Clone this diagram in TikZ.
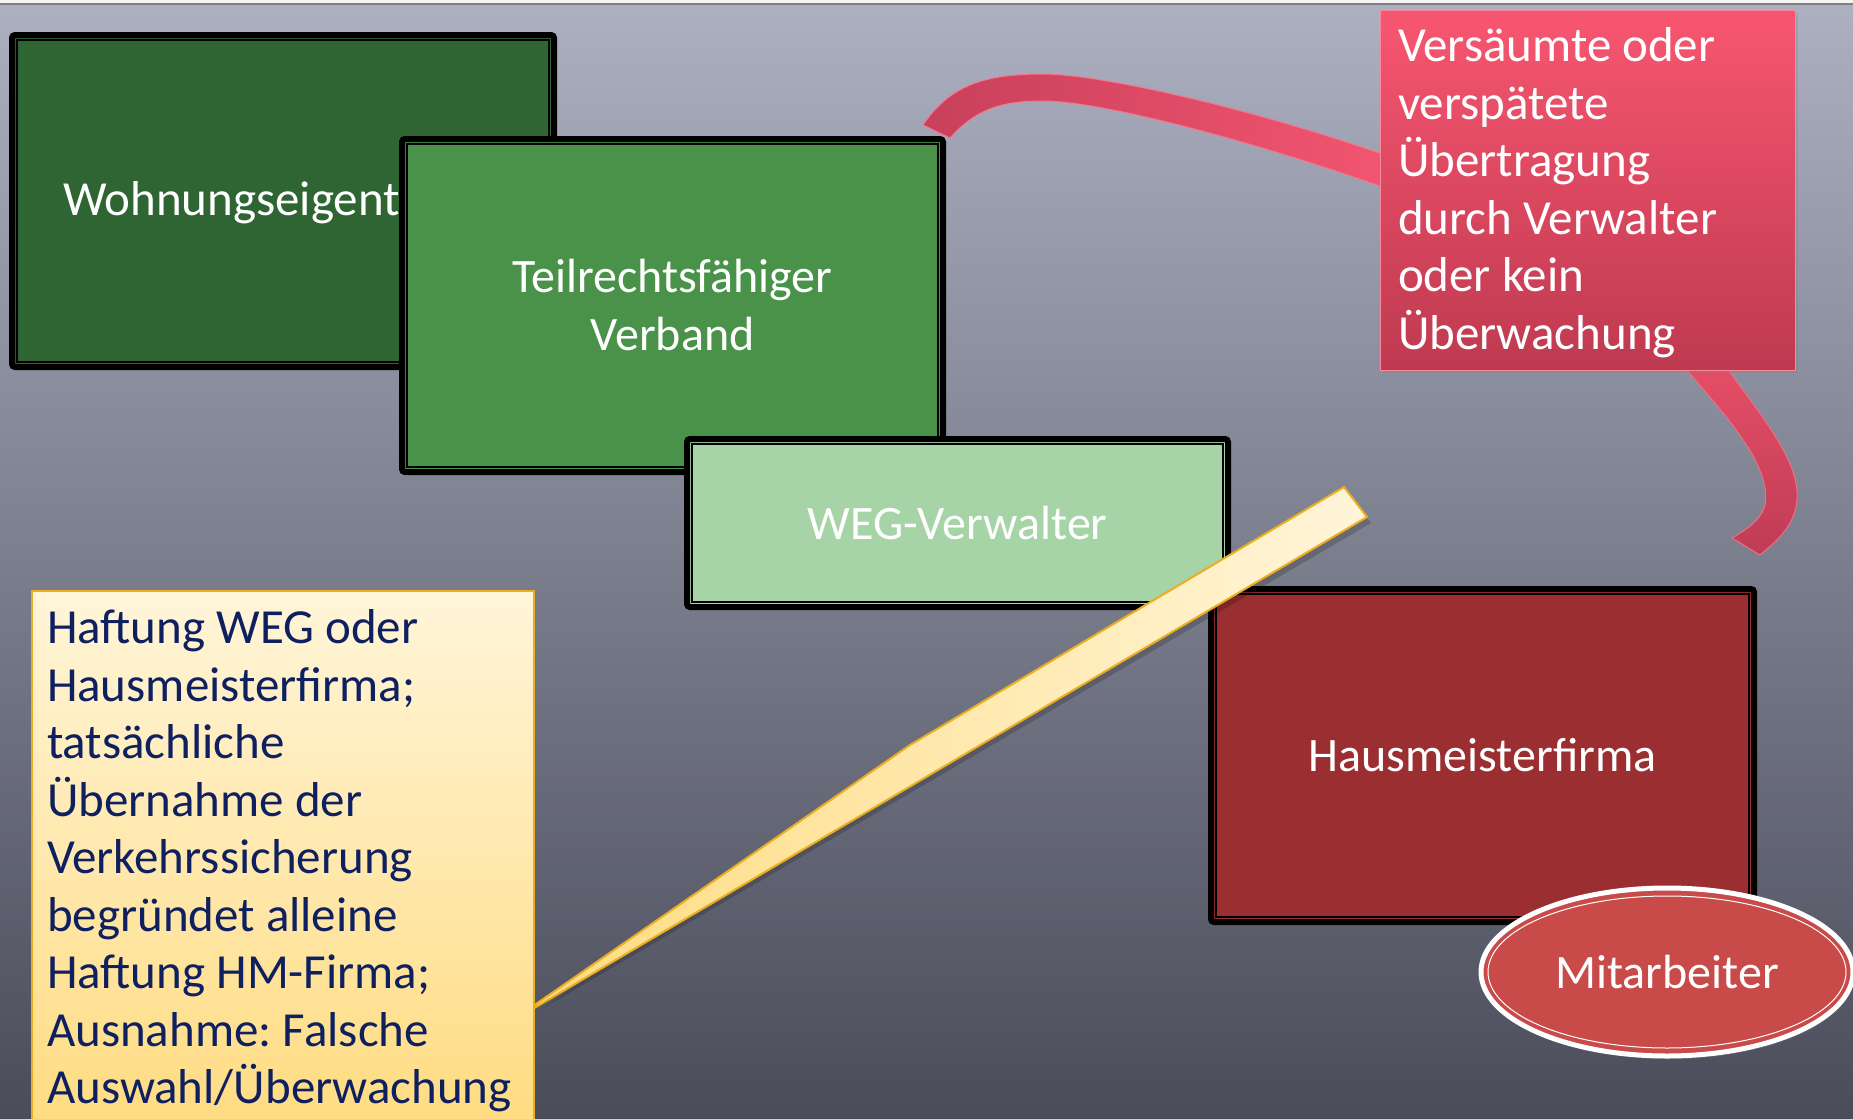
\documentclass[tikz,border=0pt]{standalone}
\usepackage{fontspec}
\setmainfont{Carlito}
\frenchspacing
\usetikzlibrary{calc,shapes.geometric,shadows}
\definecolor{bgtop}{HTML}{ACB0C0}
\definecolor{bgmid}{HTML}{808393}
\definecolor{bgbot}{HTML}{4A4C5A}
\definecolor{bfa}{HTML}{2E6533}
\definecolor{bfb}{HTML}{4A924A}
\definecolor{bfc}{HTML}{A6D4A6}
\definecolor{bfd}{HTML}{9A2E31}
\definecolor{ellred}{HTML}{C84B4A}
\definecolor{caltop}{HTML}{F85670}
\definecolor{calbot}{HTML}{BE3A50}
\definecolor{curvea}{HTML}{C8405A}
\definecolor{curveb}{HTML}{F25570}
\definecolor{curvec}{HTML}{E54D66}
\definecolor{curved}{HTML}{BF3C55}
\definecolor{yeltop}{HTML}{FFF5D9}
\definecolor{yelbot}{HTML}{FFDC82}
\definecolor{yelline}{HTML}{EBAE20}
\definecolor{navy}{HTML}{0E2060}
\begin{document}
\begin{tikzpicture}[x=0.5pt,y=-0.5pt,
  boxnode/.style={draw=black, line width=3pt, rounded corners=1.5pt, inner sep=0pt, outer sep=0pt,
    text=white, align=center, font=\fontsize{24pt}{29pt}\selectfont},
  innerline/.style={draw=black, line width=0.6pt},
  txt/.style={inner sep=0pt, outer sep=0pt, align=left, font=\fontsize{24.5pt}{28.75pt}\selectfont}
]
\useasboundingbox (0,0) rectangle (1853,1119);
% background
\shade[top color=bgtop, middle color=bgmid, bottom color=bgbot] (0,0) rectangle (1853,1119);
\fill[white!92!gray] (0,0) rectangle (1853,3);
\draw[gray, line width=1pt] (0,4) -- (1853,4);

% box 1
\node[boxnode, fill=bfa, minimum width=271pt, minimum height=166pt] (b1) at (283,201) {};
\draw[innerline] ($(b1.north west)+(5,5)$) rectangle ($(b1.south east)+(-5,-5)$);
\node[txt, text=white, anchor=west, font=\fontsize{24.5pt}{29pt}\selectfont] (t1) at (63,203) {Wohnungseigent};

% box 2
\node[boxnode, fill=bfb, minimum width=270.5pt, minimum height=166.5pt] (b2) at (672.5,305.5)
  {Teilrechtsfähiger\\Verband};
\draw[innerline] ($(b2.north west)+(5,5)$) rectangle ($(b2.south east)+(-5,-5)$);

% box 3
\node[boxnode, fill=bfc, minimum width=270.5pt, minimum height=84pt] (b3) at (957.5,523) {WEG-Verwalter};
\draw[innerline] ($(b3.north west)+(5,5)$) rectangle ($(b3.south east)+(-5,-5)$);

% box 4
\node[boxnode, fill=bfd, minimum width=271.5pt, minimum height=166.5pt] (b4) at (1482.5,755.5) {Hausmeisterfirma};
\draw[innerline] ($(b4.north west)+(5,5)$) rectangle ($(b4.south east)+(-5,-5)$);

% red ribbons
\shade[left color=curvea, right color=curveb, draw=curveb!80!white, line width=0.5pt]
  (923,125) .. controls (950,85) and (985,74) .. (1043,74)
  .. controls (1100,74) and (1250,108) .. (1385,155)
  -- (1385,188)
  .. controls (1250,140) and (1100,101) .. (1043,101)
  .. controls (1000,101) and (975,110) .. (950,138) -- cycle;
\shade[top color=curvec, bottom color=curved, draw=curvec!80!white, line width=0.5pt]
  (1685,368) .. controls (1725,415) and (1772,465) .. (1765,505)
  .. controls (1760,522) and (1745,530) .. (1732,538)
  -- (1760,555)
  .. controls (1778,540) and (1795,525) .. (1797,500)
  .. controls (1800,460) and (1760,415) .. (1727,368) -- cycle;

% red callout
\node[top color=caltop, bottom color=calbot, draw=caltop!70!white, line width=0.5pt,
  minimum width=207.5pt, minimum height=180pt, inner sep=0pt, outer sep=0pt,
  drop shadow={opacity=0.25, shadow xshift=1.5pt, shadow yshift=-1.5pt}] (cb) at (1587.5,190) {};
\node[txt, text=white, anchor=west] (ct) at (1398,192.5)
  {Versäumte oder\\verspätete\\Übertragung\\durch Verwalter\\oder kein\\Überwachung};

% yellow wedge (shadow, then wedge)
\fill[black, opacity=0.18]
  (540,1010) -- (914,751) -- (1348,493) -- (1371,523) -- cycle;
\shade[left color=yelbot, right color=yeltop, draw=yelline, line width=1pt]
  (536,1004) -- (910,745) -- (1344,487) -- (1367,517) -- (536,1007) -- cycle;

% yellow box
\node[top color=yeltop, bottom color=yelbot, draw=yelline, line width=0.6pt,
  minimum width=251pt, minimum height=266.5pt, inner sep=0pt, outer sep=0pt] (yb) at (283,857.5) {};
\node[txt, text=navy, anchor=west] (yt) at (47,861)
  {Haftung WEG oder\\Hausmeisterfirma;\\tatsächliche\\Übernahme der\\Verkehrssicherung\\begründet alleine\\Haftung HM-Firma;\\Ausnahme: Falsche\\Auswahl/Überwachung};

% ellipse
\node[ellipse, fill=ellred, draw=white, line width=2.5pt, minimum width=186pt, minimum height=84pt,
  inner sep=0pt, text=white, font=\fontsize{24pt}{29pt}\selectfont,
  drop shadow={opacity=0.25, shadow xshift=1pt, shadow yshift=-1.5pt}] (el) at (1667,972) {Mitarbeiter};
\draw[white, line width=0.5pt] (el.center) ellipse [x radius=179, y radius=76];
\end{tikzpicture}
\end{document}
